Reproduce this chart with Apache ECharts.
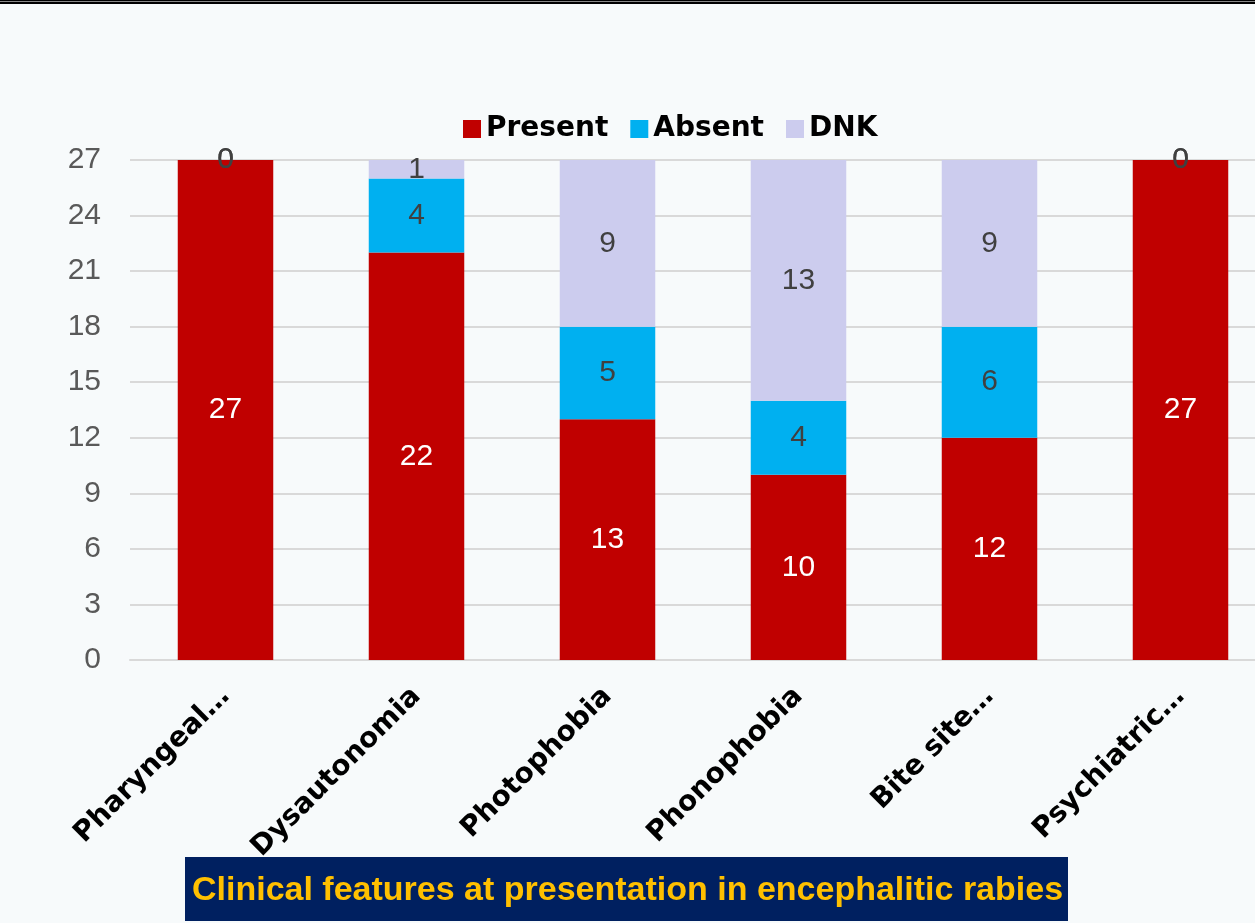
<!DOCTYPE html>
<html>
<head>
<meta charset="utf-8">
<script src="https://cdn.jsdelivr.net/npm/echarts@6/dist/echarts.min.js"></script>
<style>
  html, body { margin: 0; padding: 0; background: #f7fafb; }
  #chart { width: 1255px; height: 923px; }
</style>
</head>
<body>
<div id="chart"></div>
<script>
const categories = ["Pharyngeal…", "Dysautonomia", "Photophobia", "Phonophobia", "Bite site…", "Psychiatric…"];
const present = [27, 22, 13, 10, 12, 27];
const absent = [0, 4, 5, 4, 6, 0];
const dnk = [0, 1, 9, 13, 9, 0];
const yTicks = { min: 0, max: 27, interval: 3 };
const caption = "Clinical features at presentation in encephalitic rabies";

const chart = echarts.init(document.getElementById("chart"));

function barSeries(name, data, color, labelColor) {
  return {
    name: name,
    type: "bar",
    stack: "total",
    barWidth: "50%",
    data: data,
    itemStyle: { color: color },
    label: {
      show: true,
      position: "inside",
      color: labelColor,
      fontFamily: "Liberation Sans",
      fontSize: 30
    }
  };
}

const option = {
  backgroundColor: "#f7fafb",
  animation: false,
  legend: {
    data: ["Present", "Absent", "DNK"],
    left: 458,
    top: 110,
    itemWidth: 18,
    itemHeight: 18,
    itemGap: 22,
    icon: "rect",
    textStyle: {
      color: "#000",
      fontFamily: "DejaVu Sans",
      fontWeight: "bold",
      fontSize: 28
    }
  },
  grid: {
    left: 130,
    width: 1146,
    top: 160,
    bottom: 263,
    containLabel: false,
    outerBoundsMode: "none"
  },
  xAxis: {
    type: "category",
    data: categories,
    axisTick: { show: false },
    axisLine: { lineStyle: { color: "#d9d9d9", width: 2 } },
    axisLabel: {
      rotate: 45,
      interval: 0,
      margin: 32,
      color: "#000",
      fontFamily: "DejaVu Sans",
      fontWeight: "bold",
      fontSize: 28
    }
  },
  yAxis: {
    type: "value",
    min: yTicks.min,
    max: yTicks.max,
    interval: yTicks.interval,
    axisLine: { show: false },
    axisTick: { show: false },
    splitLine: { lineStyle: { color: "#d9d9d9", width: 2 } },
    axisLabel: {
      color: "#595959",
      fontFamily: "Liberation Sans",
      fontSize: 30,
      margin: 29
    }
  },
  series: [
    barSeries("Present", present, "#c00000", "#ffffff"),
    barSeries("Absent", absent, "#00b0f0", "#404040"),
    barSeries("DNK", dnk, "#ccccee", "#404040")
  ],
  graphic: [
    { type: "rect", shape: { x: 0, y: 0, width: 1255, height: 4 }, style: { fill: "#000" } },
    { type: "rect", shape: { x: 0, y: 1, width: 1255, height: 1 }, style: { fill: "#888" } },
    { type: "rect", shape: { x: 185, y: 857, width: 883, height: 64 }, style: { fill: "#002060" } },
    {
      type: "text",
      left: 192,
      top: 874,
      style: {
        text: caption,
        fill: "#ffc000",
        font: "bold 34px 'Liberation Sans'"
      }
    }
  ]
};

chart.setOption(option);
</script>
</body>
</html>
